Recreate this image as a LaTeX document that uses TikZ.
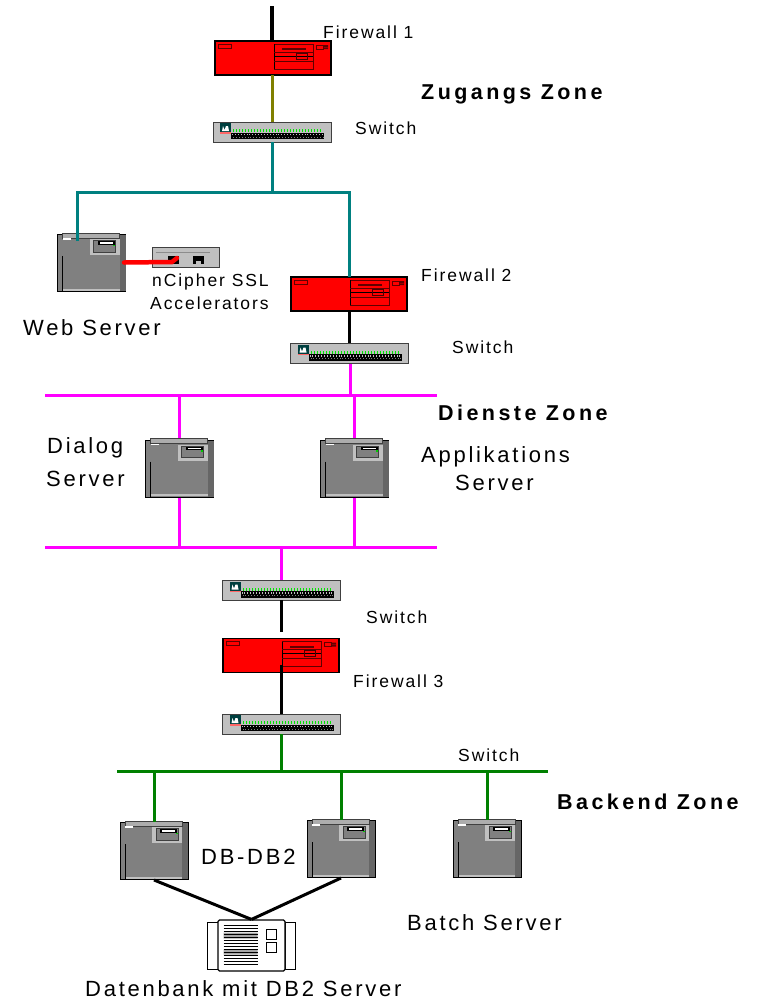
\documentclass[tikz,border=0pt]{standalone}
\usepackage{fontspec}
\setmainfont{Liberation Sans}
\newfontfamily\lspsm[LetterSpace=11]{Liberation Sans}
\newfontfamily\lsp[LetterSpace=12.4]{Liberation Sans}
\newfontfamily\lspb[LetterSpace=16]{Liberation Sans Bold}
\definecolor{tealc}{HTML}{008080}
\definecolor{olivec}{HTML}{808000}
\definecolor{magc}{HTML}{FF00FF}
\definecolor{greenc}{HTML}{008000}
\definecolor{grayb}{HTML}{808080}
\definecolor{grayl}{HTML}{C0C0C0}
\definecolor{grayd}{HTML}{404040}
\definecolor{darkred}{HTML}{600000}
\tikzset{
  fwbox/.style={draw=black,fill=red,line width=1.2pt,minimum width=116pt,minimum height=34pt,inner sep=0pt},
  swbox/.style={draw=grayd,fill=grayl,line width=.8pt,minimum width=118pt,minimum height=20pt,inner sep=0pt},
  srvbox/.style={draw=black,fill=grayb,line width=1pt,minimum width=68pt,minimum height=57pt,inner sep=0pt},
  acbox/.style={draw=grayd,fill=grayl,line width=1pt,minimum width=67pt,minimum height=20pt,inner sep=0pt},
  dbbox/.style={draw=black,fill=white,line width=1.2pt,rounded corners=1.5pt,minimum width=67pt,minimum height=51pt,inner sep=0pt},
  lab/.style={inner sep=0pt,anchor=base west,font=\lspsm\fontsize{17.5}{20}\selectfont},
  labb/.style={inner sep=0pt,anchor=base west,font=\lsp\fontsize{22}{25}\selectfont},
  zone/.style={inner sep=0pt,anchor=base west,font=\lspb\fontsize{21.5}{25}\selectfont},
  wire/.style={line width=3pt},
  dr/.style={draw=darkred,line width=.9pt},
  fwdetail/.pic={
    \draw[dr] (-55,-14) rectangle (-42,-10);
    \draw[dr,line width=1pt] (1,-14) rectangle (40,11);
    \draw[black,line width=.9pt] (1,-14) -- (1,11);
    \draw[dr] (1,-6) -- (40,-6) (1,3) -- (40,3);
    \draw[black,line width=.7pt] (1,-2) -- (40,-2);
    \fill[darkred] (9,-10) rectangle (33,-8);
    \draw[black!70!red,line width=.9pt] (23,-5) rectangle (34,1);
    \draw[dr] (43,-13) rectangle (50,-9);
    \fill[darkred] (50,-13) rectangle (55,-11) (50,-10.5) rectangle (55,-9);
  },
  swdetail/.pic={
    \fill[black!50!tealc] (-52,-9) rectangle (-41,0);
    \fill[white] (-50,-1) -- (-49,-6) -- (-47.5,-2) -- (-46,-6) -- (-44,-6) -- (-43,-1) -- cycle;
    \fill[red!60] (-52,0) rectangle (-41,1.5);
    \foreach \i in {0,...,29} {\fill[green!90!black] ({-39+\i*3},-3) rectangle ++(1,3);}
    \fill[black] (-41,0.5) rectangle (52,7);
    \foreach \i in {0,...,31} {\fill[grayl] ({-40+\i*2.9},1.5) rectangle ++(1,1.5);}
    \foreach \i in {0,...,31} {\fill[grayb] ({-39+\i*2.9},4.5) rectangle ++(.8,1);}
  },
  srvdetail/.pic={
    \fill[grayd!80] (28,-28) rectangle (34,28);
    \fill[grayl!70!grayb,draw=grayd,line width=.5pt] (-29,-30) rectangle (28,-25);
    \fill[grayl] (-29,25.5) rectangle (28,27.5);
    \draw[black,line width=1pt] (-29,-7) -- (-29,28);
    \fill[white] (-29,-25) rectangle (-21,-23.5);
    \fill[grayl] (-2,-24) rectangle (28,-8);
    \draw[grayd,fill=grayb,line width=.7pt] (2,-22.5) rectangle (24,-11);
    \fill[black] (6,-22) rectangle (23,-18.5);
    \fill[white] (8,-21) rectangle (21,-19.5);
    \fill[green!80!black] (21.5,-18.5) rectangle (23.5,-17);
  },
  acdetail/.pic={
    \draw[black!45,line width=.8pt] (-30,-5) -- (24,-5);
    \fill[black] (-17.5,-1.5) rectangle (-7,6);
    \fill[black] (7,-1.5) rectangle (18,6);
    \fill[grayl] (10,3) rectangle (15,6);
  },
  dbdetail/.pic={
    \fill[gray!70] (-28,-13) rectangle (6,-7) (-28,4) rectangle (6,9);
    \foreach \y in {-20,-17,-14,-11,-8,-5,-2,1,4,7,10,13,16,19} {
      \draw[black,line width=.7pt] (-28,\y) -- (6,\y);
    }
    \draw[black,line width=.8pt] (15,-16) rectangle (25,-6) (15,-3) rectangle (25,7);
  }
}
\begin{document}
\begin{tikzpicture}[x=1pt,y=-1pt]
\useasboundingbox (0,0) rectangle (759,1002);
% devices
\node[fwbox] (fw1) at (273,58) {};
\node[swbox] (sw1) at (272,132) {};
\node[srvbox] (web) at (91.5,263) {};
\node[acbox] (acc) at (185.5,257.5) {};
\node[fwbox] (fw2) at (349,294) {};
\node[swbox] (sw2) at (349.5,353.5) {};
\node[srvbox] (dlg) at (179.5,468.5) {};
\node[srvbox] (app) at (354.5,468.5) {};
\node[swbox] (sw3) at (281.5,590.5) {};
\node[fwbox] (fw3) at (281,655.5) {};
\node[swbox] (sw4) at (281.5,724) {};
\node[srvbox] (db1) at (154,851) {};
\node[srvbox] (db2) at (341,849) {};
\node[srvbox] (bat) at (487,849) {};
\draw[black,line width=1pt,fill=white] (207,922) rectangle (219,969) (285,922) rectangle (295,969);
\node[dbbox] (db) at (251.5,945.5) {};
% details
\pic at (fw1) {fwdetail};\pic at (fw2) {fwdetail};\pic at (fw3) {fwdetail};
\pic at (sw1) {swdetail};\pic at (sw2) {swdetail};\pic at (sw3) {swdetail};\pic at (sw4) {swdetail};
\pic at (web) {srvdetail};\pic at (dlg) {srvdetail};\pic at (app) {srvdetail};
\pic at (db1) {srvdetail};\pic at (db2) {srvdetail};\pic at (bat) {srvdetail};
\pic at (acc) {acdetail};\pic at (db) {dbdetail};
% junctions
\coordinate (top) at (272,6);
\coordinate (t1) at (272,192);
\coordinate (tl) at (77,192);
\coordinate (tr) at (349,192);
\coordinate (webin) at (77,241);
\coordinate (m1l) at (45,395); \coordinate (m1r) at (437,395);
\coordinate (m2l) at (45,547); \coordinate (m2r) at (437,547);
\coordinate (g1l) at (117,771.5); \coordinate (g1r) at (548,771.5);
% wires
\draw[wire,line width=3.5pt] (top) -- (272,42);
\draw[wire,olivec] (272,75) -- (272,122);
\draw[wire,tealc] (272,142) -- (t1);
\draw[wire,tealc] (webin) -- (tl) -- (tr) -- (349,277);
\draw[wire,red,line width=4.5pt,line cap=round] (124,262.5) -- (172,262) -- (177,258);
\draw[wire,black] (fw2.south -| 349,0) -- (sw2.north -| 349,0);
\draw[wire,magc] (350,364) -- (350,395);
\draw[wire,magc] (m1l) -- (m1r);
\draw[wire,magc] (179.5,395) -- (179.5,438);
\draw[wire,magc] (354.5,395) -- (354.5,438);
\draw[wire,magc] (dlg.south) -- (179.5,547);
\draw[wire,magc] (app.south) -- (354.5,547);
\draw[wire,magc] (m2l) -- (m2r);
\draw[wire,magc] (281.5,547) -- (sw3.north -| 281.5,0);
\draw[wire,black] (281.5,600) -- (281.5,632);
\draw[wire,black] (281.5,665) -- (281.5,714);
\draw[wire,greenc] (281.5,734) -- (281.5,771);
\draw[wire,greenc] (g1l) -- (g1r);
\draw[wire,greenc] (154.5,771) -- (db1.north -| 154.5,0);
\draw[wire,greenc] (341,771) -- (db2.north);
\draw[wire,greenc] (487,771) -- (bat.north);
\draw[wire,black] (db1.south) -- (db.north);
\draw[wire,black] (db2.south) -- (db.north);
% labels
\node[lab] at (323,38) {Firewall 1};
\node[zone] at (421,99) {Zugangs Zone};
\node[lab] at (355,134) {Switch};
\node[lab] at (152,286) {nCipher SSL};
\node[lab] at (150,309) {Accelerators};
\node[lab] at (421,281) {Firewall 2};
\node[labb] at (23,335) {Web Server};
\node[lab] at (452,353) {Switch};
\node[zone] at (438,420) {Dienste Zone};
\node[labb] at (47,453) {Dialog};
\node[labb] at (46,486) {Server};
\node[labb] at (421,462) {Applikations};
\node[labb] at (455,490) {Server};
\node[lab] at (366,623) {Switch};
\node[lab] at (353,687) {Firewall 3};
\node[lab] at (458,761) {Switch};
\node[zone] at (557,809) {Backend Zone};
\node[labb] at (201,864) {DB-DB2};
\node[labb] at (407,930) {Batch Server};
\node[labb] at (85,996) {Datenbank mit DB2 Server};
\end{tikzpicture}
\end{document}
